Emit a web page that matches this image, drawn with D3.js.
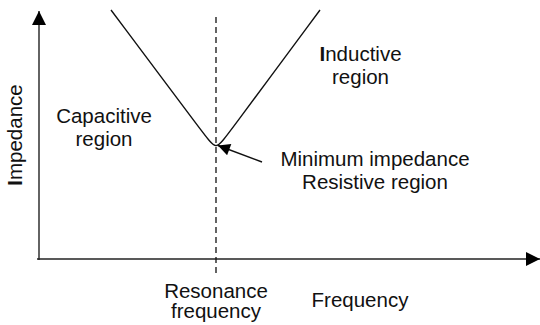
<!DOCTYPE html>
<html>
<head>
<meta charset="utf-8">
<script src="https://cdn.jsdelivr.net/npm/d3@7"></script>
<style>
  body { margin: 0; background: #fff; }
  text { font-family: "Liberation Sans", Arial, sans-serif; font-size: 20.5px; fill: #111; }
</style>
</head>
<body>
<div id="chart"></div>
<script>
  // impedance vs frequency (arbitrary units)
  var freq      = [14.4, 33.4, 35.4, 37.4, 56.2];
  var impedance = [99.6, 48.9, 43.6, 48.9, 99.6];
  var resonance = 35.4;

  var width = 540, height = 325;

  var x = d3.scaleLinear().domain([0, 100]).range([39, 539]),
      y = d3.scaleLinear().domain([0, 100]).range([259, 9]);

  var svg = d3.select("#chart").append("svg")
    .attr("width", width)
    .attr("height", height);

  var defs = svg.append("defs");
  defs.append("marker")
    .attr("id", "head")
    .attr("markerUnits", "userSpaceOnUse")
    .attr("viewBox", "0 0 10 10")
    .attr("refX", 10).attr("refY", 5)
    .attr("markerWidth", 15).attr("markerHeight", 14)
    .attr("orient", "auto")
    .append("path").attr("d", "M0,0L10,5L0,10Z").attr("fill", "#000");
  defs.append("marker")
    .attr("id", "head2")
    .attr("markerUnits", "userSpaceOnUse")
    .attr("viewBox", "0 0 10 10")
    .attr("refX", 10).attr("refY", 5)
    .attr("markerWidth", 16).attr("markerHeight", 12)
    .attr("orient", "auto")
    .append("path").attr("d", "M0,0L10,5L0,10Z").attr("fill", "#000");

  // axes (no ticks, just arrows)
  svg.append("line")
    .attr("x1", x(0) - 2).attr("y1", y(0))
    .attr("x2", 540).attr("y2", y(0))
    .attr("stroke", "#222").attr("stroke-width", 1.4)
    .attr("marker-end", "url(#head)");
  svg.append("line")
    .attr("x1", x(0)).attr("y1", y(0) + 1)
    .attr("x2", x(0)).attr("y2", 11)
    .attr("stroke", "#222").attr("stroke-width", 1.4)
    .attr("marker-end", "url(#head)");

  // resonance marker
  svg.append("line")
    .attr("x1", x(resonance)).attr("y1", 17)
    .attr("x2", x(resonance)).attr("y2", 277)
    .attr("stroke", "#111").attr("stroke-width", 1.3)
    .attr("stroke-dasharray", "6,4");

  // impedance curve
  var line = d3.line()
    .x(function(d, i) { return x(freq[i]); })
    .y(function(d, i) { return y(impedance[i]); })
    .curve(d3.curveBasis);

  svg.append("path")
    .datum(freq)
    .attr("d", line)
    .attr("fill", "none")
    .attr("stroke", "#111")
    .attr("stroke-width", 1.4);

  // pointer to the minimum
  svg.append("line")
    .attr("x1", 262).attr("y1", 162)
    .attr("x2", 218).attr("y2", 145.5)
    .attr("stroke", "#111").attr("stroke-width", 1.4)
    .attr("marker-end", "url(#head2)");

  // labels; an array entry [bold, rest] makes the first letter bold
  function label(cx, by, lines) {
    var t = svg.append("text").attr("text-anchor", "middle");
    lines.forEach(function(l, i) {
      var ts = t.append("tspan").attr("x", cx).attr("y", by + i * 23);
      if (Array.isArray(l)) {
        ts.append("tspan").style("font-weight", "bold").text(l[0]);
        ts.append("tspan").text(l[1]);
      } else {
        ts.text(l);
      }
    });
    return t;
  }

  label(104, 123, ["Capacitive", "region"]);
  label(360.5, 61, [["I", "nductive"], "region"]);
  label(375, 166, ["Minimum impedance", "Resistive region"]);
  var rf = svg.append("text").attr("text-anchor", "middle");
  rf.append("tspan").attr("x", x(resonance)).attr("y", 298).text("Resonance");
  rf.append("tspan").attr("x", x(resonance)).attr("y", 318).text("frequency");
  svg.append("text").attr("text-anchor", "middle")
    .attr("x", 360).attr("y", 307).text("Frequency");

  var yl = svg.append("text")
    .attr("text-anchor", "middle")
    .attr("transform", "translate(22,135) rotate(-90)");
  yl.append("tspan").style("font-weight", "bold").text("I");
  yl.append("tspan").text("mpedance");
</script>
</body>
</html>
